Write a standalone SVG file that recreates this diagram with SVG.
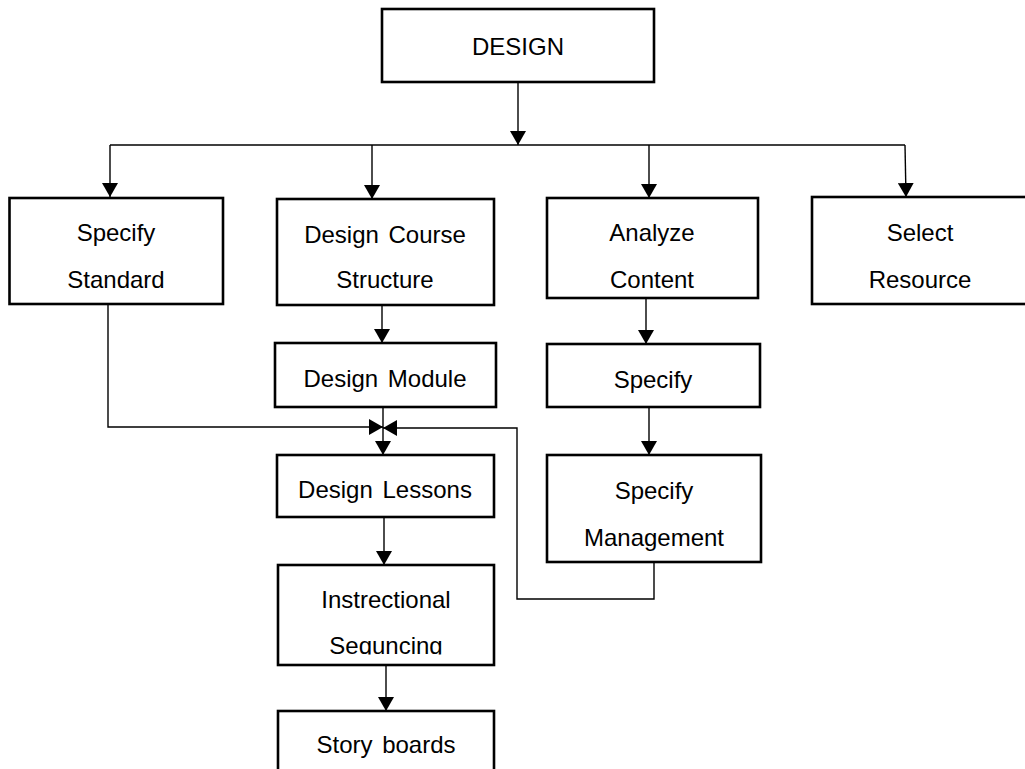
<svg xmlns="http://www.w3.org/2000/svg" width="1025" height="769" viewBox="0 0 1025 769">
  <style>
    .box { fill: #ffffff; stroke: #000000; stroke-width: 2.6; }
    .lbl { font-family: "Liberation Sans", Arial, sans-serif; font-size: 24px; word-spacing: 3px; fill: #000000; text-anchor: middle; }
    .wire { fill: none; stroke: #000000; stroke-width: 1.4; }
  </style>
  <defs>
    <marker id="head" viewBox="0 0 14 16" refX="14" refY="8" markerWidth="14" markerHeight="16" markerUnits="userSpaceOnUse" orient="auto">
      <path d="M0,0 L14,8 L0,16 z" fill="#000000"/>
    </marker>
    <clipPath id="seqClip">
      <rect x="278" y="565" width="216" height="89.5"/>
    </clipPath>
  </defs>
  <rect width="1025" height="769" fill="#ffffff"/>

  <!-- connectors -->
  <g id="connectors">
    <path class="wire" d="M518,82 V145" marker-end="url(#head)"/>
    <path class="wire" d="M110,145 H905"/>
    <path class="wire" d="M110,145 V197" marker-end="url(#head)"/>
    <path class="wire" d="M372,145 V199" marker-end="url(#head)"/>
    <path class="wire" d="M649,145 V198" marker-end="url(#head)"/>
    <path class="wire" d="M905,145 L906,197" marker-end="url(#head)"/>
    <path class="wire" d="M382,305 V343" marker-end="url(#head)"/>
    <path class="wire" d="M646,298 V344" marker-end="url(#head)"/>
    <path class="wire" d="M649,407 V455" marker-end="url(#head)"/>
    <path class="wire" d="M383,407 V455" marker-end="url(#head)"/>
    <path class="wire" d="M108,304 V427 H383" marker-end="url(#head)"/>
    <path class="wire" d="M654,562 V599 H517 V428 H383" marker-end="url(#head)"/>
    <path class="wire" d="M384,517 V565" marker-end="url(#head)"/>
    <path class="wire" d="M386,665 V711" marker-end="url(#head)"/>
  </g>

  <!-- nodes -->
  <g id="design">
    <rect class="box" x="382" y="9" width="272" height="73"/>
    <text class="lbl" x="518" y="55">DESIGN</text>
  </g>
  <g id="specify-standard">
    <rect class="box" x="9.5" y="198" width="213.5" height="106"/>
    <text class="lbl" x="116" y="241">Specify</text>
    <text class="lbl" x="116" y="288">Standard</text>
  </g>
  <g id="design-course-structure">
    <rect class="box" x="277" y="199" width="217" height="106"/>
    <text class="lbl" x="385" y="243">Design Course</text>
    <text class="lbl" x="385" y="288">Structure</text>
  </g>
  <g id="analyze-content">
    <rect class="box" x="547" y="198" width="211" height="100"/>
    <text class="lbl" x="652" y="241">Analyze</text>
    <text class="lbl" x="652" y="288">Content</text>
  </g>
  <g id="select-resource">
    <rect class="box" x="812" y="197" width="220" height="107"/>
    <text class="lbl" x="920" y="241">Select</text>
    <text class="lbl" x="920" y="288">Resource</text>
  </g>
  <g id="design-module">
    <rect class="box" x="275" y="343" width="221" height="64"/>
    <text class="lbl" x="385" y="387">Design Module</text>
  </g>
  <g id="specify">
    <rect class="box" x="547" y="344" width="213" height="63"/>
    <text class="lbl" x="653" y="388">Specify</text>
  </g>
  <g id="design-lessons">
    <rect class="box" x="277" y="455" width="217" height="62"/>
    <text class="lbl" x="385" y="498">Design Lessons</text>
  </g>
  <g id="specify-management">
    <rect class="box" x="547" y="455" width="214" height="107"/>
    <text class="lbl" x="654" y="499">Specify</text>
    <text class="lbl" x="654" y="546">Management</text>
  </g>
  <g id="instructional-sequencing">
    <rect class="box" x="278" y="565" width="216" height="100"/>
    <text class="lbl" x="386" y="608">Instrectional</text>
    <text class="lbl" x="386" y="654" clip-path="url(#seqClip)">Sequncing</text>
  </g>
  <g id="story-boards">
    <rect class="box" x="278" y="711" width="216" height="70"/>
    <text class="lbl" x="386" y="753">Story boards</text>
  </g>
</svg>
